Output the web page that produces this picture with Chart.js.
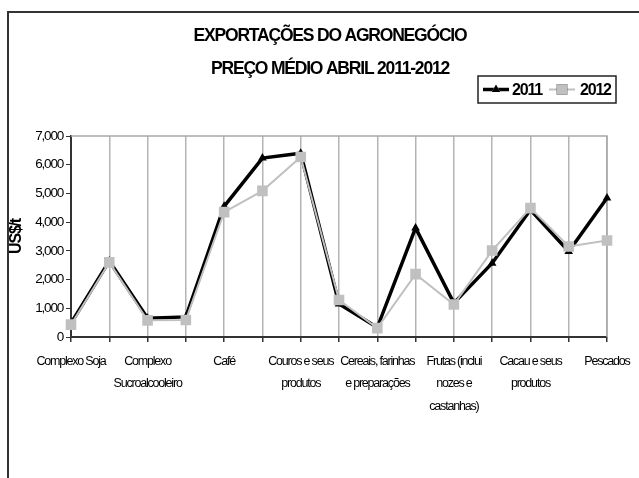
<!DOCTYPE html>
<html>
<head>
<meta charset="utf-8">
<script src="https://cdn.jsdelivr.net/npm/chart.js@4/dist/chart.umd.min.js"></script>
<style>
  html, body { margin: 0; padding: 0; background: #fff; }
  #wrap { width: 639px; height: 478px; position: relative; }
</style>
</head>
<body>
<div id="wrap"><canvas id="c" width="639" height="478"></canvas></div>
<script>
const categories = [
  'Complexo Soja',
  'Carnes',
  ['Complexo', 'Sucroalcooleiro'],
  'Produtos florestais',
  'Café',
  ['Fumo e seus', 'produtos'],
  ['Couros e seus', 'produtos'],
  'Sucos de frutas',
  ['Cereais, farinhas', 'e preparações'],
  ['Fibras e produtos', 'têxteis'],
  ['Frutas (inclui', 'nozes e', 'castanhas)'],
  'Demais produtos de origem vegetal',
  ['Cacau e seus', 'produtos'],
  'Chá, mate e especiarias',
  'Pescados'
];
const values2011 = [480, 2650, 650, 700, 4550, 6230, 6400, 1150, 330, 3800, 1180, 2570, 4430, 2980, 4840];
const values2012 = [430, 2600, 580, 590, 4350, 5090, 6270, 1290, 310, 2190, 1130, 3010, 4490, 3150, 3360];
const seriesNames = ['2011', '2012'];
const titleLines = ['EXPORTAÇÕES DO AGRONEGÓCIO', 'PREÇO MÉDIO ABRIL 2011-2012'];
const yTitle = 'US$/t';

const FONT = "'Liberation Sans', Arial, sans-serif";
const SPACING = '-1.2px';

const decor = {
  id: 'decor',
  beforeUpdate(chart) { chart.ctx.letterSpacing = SPACING; },
  beforeLayout(chart) { chart.ctx.letterSpacing = SPACING; },
  beforeDraw(chart) {
    const ctx = chart.ctx;
    ctx.letterSpacing = SPACING;
    ctx.save();
    ctx.strokeStyle = '#333';
    ctx.lineWidth = 2;
    ctx.beginPath();
    ctx.moveTo(8, 478);
    ctx.lineTo(8, 12);
    ctx.lineTo(639, 12);
    ctx.stroke();
    ctx.restore();
  },
  beforeDatasetsDraw(chart) {
    const a = chart.chartArea, ctx = chart.ctx;
    ctx.save();
    ctx.strokeStyle = '#a8a8a8';
    ctx.lineWidth = 1.5;
    ctx.beginPath();
    ctx.moveTo(a.left, a.top);
    ctx.lineTo(a.right, a.top);
    ctx.lineTo(a.right, a.bottom);
    ctx.stroke();
    ctx.restore();
  },
  afterDraw(chart) {
    const ctx = chart.ctx;
    const ds = chart.data.datasets;
    ctx.save();
    ctx.letterSpacing = SPACING;
    // title
    ctx.fillStyle = '#000';
    ctx.font = "bold 17.5px " + FONT;
    ctx.textAlign = 'center';
    ctx.textBaseline = 'middle';
    titleLines.forEach((t, i) => ctx.fillText(t, 330, 36 + i * 33));
    // legend
    const bx = 478, by = 76, bw = 138, bh = 27;
    ctx.fillStyle = '#fff';
    ctx.fillRect(bx, by, bw, bh);
    ctx.strokeStyle = '#222';
    ctx.lineWidth = 1.5;
    ctx.strokeRect(bx, by, bw, bh);
    const cy = by + bh / 2;
    const items = [
      { d: ds[0], x0: 483, tx: 512 },
      { d: ds[1], x0: 549, tx: 580 }
    ];
    items.forEach(it => {
      ctx.strokeStyle = it.d.borderColor;
      ctx.lineWidth = it.d.borderWidth;
      ctx.beginPath();
      ctx.moveTo(it.x0, cy);
      ctx.lineTo(it.x0 + 26, cy);
      ctx.stroke();
      Chart.helpers.drawPoint(ctx, {
        pointStyle: it.d.pointStyle,
        radius: it.d.pointRadius,
        rotation: 0,
        borderWidth: 0
      }, it.x0 + 13, cy);
      ctx.fillStyle = it.d.pointBackgroundColor;
      ctx.fill();
      ctx.fillStyle = '#000';
      ctx.font = "bold 16px " + FONT;
      ctx.textBaseline = 'middle';
      ctx.textAlign = 'left';
      ctx.fillText(it.d.label, it.tx, cy + 1);
    });
    ctx.restore();
  }
};

new Chart(document.getElementById('c'), {
  type: 'line',
  data: {
    labels: categories,
    datasets: [
      {
        label: seriesNames[0],
        data: values2011,
        borderColor: '#000',
        backgroundColor: '#000',
        pointBackgroundColor: '#000',
        pointBorderColor: '#000',
        borderWidth: 3.5,
        pointStyle: 'triangle',
        pointRadius: 5,
        pointBorderWidth: 0,
        tension: 0,
        order: 2
      },
      {
        label: seriesNames[1],
        data: values2012,
        borderColor: '#c0c0c0',
        backgroundColor: '#c0c0c0',
        pointBackgroundColor: '#c0c0c0',
        pointBorderColor: '#c0c0c0',
        borderWidth: 2,
        pointStyle: 'rect',
        pointRadius: 7.5,
        pointBorderWidth: 0,
        tension: 0,
        order: 1
      }
    ]
  },
  options: {
    responsive: false,
    animation: false,
    devicePixelRatio: 1,
    layout: { padding: { left: 8, right: 32, top: 136, bottom: 0 } },
    plugins: {
      legend: { display: false },
      tooltip: { enabled: false },
      title: { display: false }
    },
    scales: {
      x: {
        offset: false,
        grid: {
          display: true,
          color: '#b4b4b4',
          lineWidth: 1.5,
          tickColor: '#333',
          tickLength: 5,
          drawOnChartArea: true
        },
        border: { display: true, color: '#333', width: 2 },
        ticks: {
          autoSkip: false,
          maxRotation: 0,
          minRotation: 0,
          padding: 8,
          color: '#000',
          font: { family: FONT, size: 12.5, lineHeight: 1.8 },
          callback: function (v, i) { return i % 2 === 0 ? this.getLabelForValue(v) : ''; }
        },
        afterFit(scale) { scale.height = 141; }
      },
      y: {
        min: 0,
        max: 7000,
        grid: {
          drawOnChartArea: false,
          drawTicks: true,
          tickLength: 5,
          tickColor: '#333'
        },
        border: { display: true, color: '#333', width: 2 },
        ticks: {
          stepSize: 1000,
          padding: 3,
          color: '#000',
          font: { family: FONT, size: 13.5 }
        },
        title: {
          display: true,
          text: yTitle,
          color: '#000',
          font: { family: FONT, size: 16, weight: 'bold', lineHeight: 1.1 },
          padding: 0
        },
        afterFit(scale) { scale.width = 63; }
      }
    }
  },
  plugins: [decor]
});
</script>
</body>
</html>
